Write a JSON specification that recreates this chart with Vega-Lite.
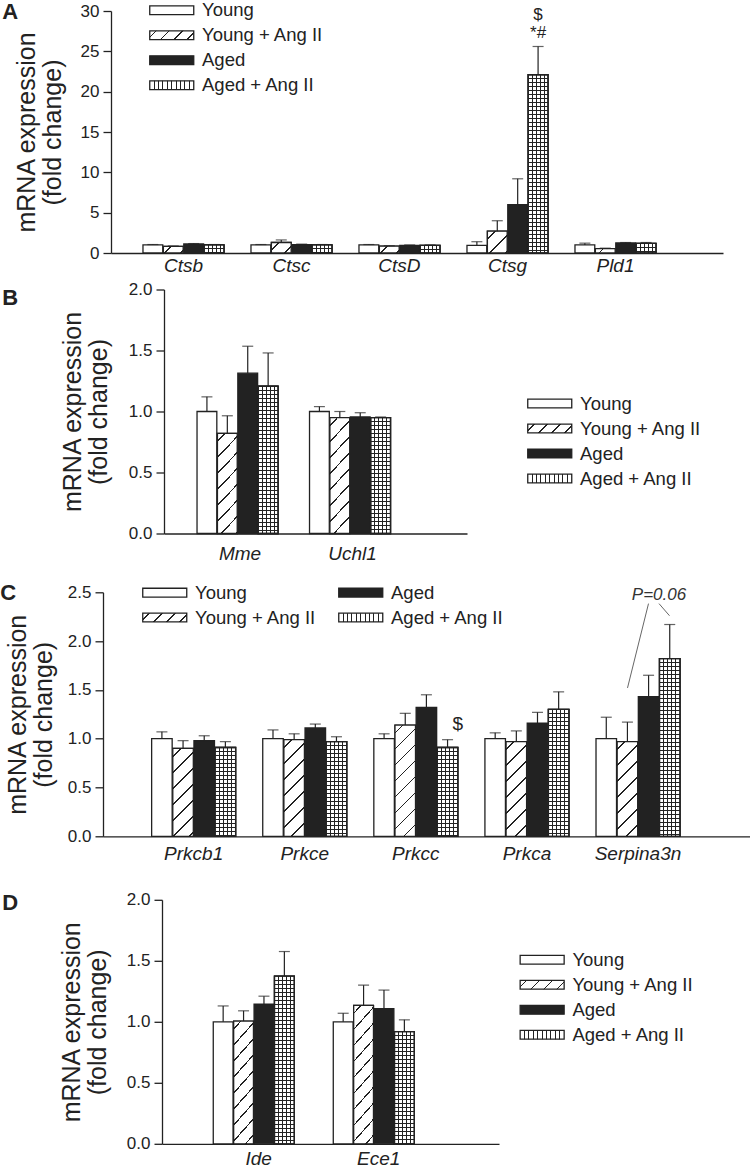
{
"$schema": "https://vega.github.io/schema/vega-lite/v6.json",
"padding": 0,
"background": "white",
"config": {
 "view": {"stroke": null},
 "font": "Liberation Sans",
 "axis": {"grid": false, "domainColor": "#222", "domainWidth": 1.3, "tickColor": "#222", "tickWidth": 1.3, "labelColor": "#222", "titleColor": "#222", "labelFont": "Liberation Sans", "titleFont": "Liberation Sans"},
 "axisY": {"tickSize": 8, "labelFontSize": 17, "labelPadding": 4, "titleFontSize": 25, "titleFontWeight": "normal", "titleLineHeight": 26, "minExtent": 30, "maxExtent": 30},
 "axisX": {"ticks": false, "tickSize": 0, "labelFontSize": 19, "labelFontStyle": "italic", "labelAngle": 0, "title": null},
 "legend": {"title": null, "symbolType": "M-4.4,-0.88H4.4V0.88H-4.4Z", "symbolSize": 100, "symbolStrokeColor": "#222", "symbolStrokeWidth": 1.3, "symbolOpacity": 1, "labelFontSize": 18.5, "labelFont": "Liberation Sans", "labelColor": "#222", "labelOffset": 21, "rowPadding": 6, "padding": 0, "labelLimit": 300},
 "title": {"font": "Liberation Sans", "fontSize": 22, "fontWeight": "bold", "color": "#222"}
},
"params": [
 {"name": "hatchLeg", "value": {"gradient":"linear","x1":0,"y1":0,"x2":1.154,"y2":0.231,"stops":[{"offset":0,"color":"#fff"},{"offset":0.106,"color":"#fff"},{"offset":0.106,"color":"#222"},{"offset":0.14,"color":"#222"},{"offset":0.14,"color":"#fff"},{"offset":0.352,"color":"#fff"},{"offset":0.352,"color":"#222"},{"offset":0.386,"color":"#222"},{"offset":0.386,"color":"#fff"},{"offset":0.599,"color":"#fff"},{"offset":0.599,"color":"#222"},{"offset":0.633,"color":"#222"},{"offset":0.633,"color":"#fff"},{"offset":0.845,"color":"#fff"},{"offset":0.845,"color":"#222"},{"offset":0.879,"color":"#222"},{"offset":0.879,"color":"#fff"},{"offset":1,"color":"#fff"}]}},
 {"name": "gridLeg", "value": {"gradient":"linear","x1":0,"y1":0,"x2":1,"y2":0,"stops":[{"offset":0,"color":"#fff"},{"offset":0.088,"color":"#fff"},{"offset":0.088,"color":"#222"},{"offset":0.112,"color":"#222"},{"offset":0.112,"color":"#fff"},{"offset":0.188,"color":"#fff"},{"offset":0.188,"color":"#222"},{"offset":0.212,"color":"#222"},{"offset":0.212,"color":"#fff"},{"offset":0.288,"color":"#fff"},{"offset":0.288,"color":"#222"},{"offset":0.312,"color":"#222"},{"offset":0.312,"color":"#fff"},{"offset":0.388,"color":"#fff"},{"offset":0.388,"color":"#222"},{"offset":0.412,"color":"#222"},{"offset":0.412,"color":"#fff"},{"offset":0.488,"color":"#fff"},{"offset":0.488,"color":"#222"},{"offset":0.512,"color":"#222"},{"offset":0.512,"color":"#fff"},{"offset":0.588,"color":"#fff"},{"offset":0.588,"color":"#222"},{"offset":0.612,"color":"#222"},{"offset":0.612,"color":"#fff"},{"offset":0.688,"color":"#fff"},{"offset":0.688,"color":"#222"},{"offset":0.712,"color":"#222"},{"offset":0.712,"color":"#fff"},{"offset":0.788,"color":"#fff"},{"offset":0.788,"color":"#222"},{"offset":0.812,"color":"#222"},{"offset":0.812,"color":"#fff"},{"offset":0.888,"color":"#fff"},{"offset":0.888,"color":"#222"},{"offset":0.912,"color":"#222"},{"offset":0.912,"color":"#fff"},{"offset":1,"color":"#fff"}]}},
 {"name": "vStripes", "value": {"gradient":"linear","x1":0,"y1":0,"x2":1,"y2":0,"stops":[{"offset":0,"color":"#fff"},{"offset":0.175,"color":"#fff"},{"offset":0.175,"color":"#222"},{"offset":0.225,"color":"#222"},{"offset":0.225,"color":"#fff"},{"offset":0.375,"color":"#fff"},{"offset":0.375,"color":"#222"},{"offset":0.425,"color":"#222"},{"offset":0.425,"color":"#fff"},{"offset":0.575,"color":"#fff"},{"offset":0.575,"color":"#222"},{"offset":0.625,"color":"#222"},{"offset":0.625,"color":"#fff"},{"offset":0.775,"color":"#fff"},{"offset":0.775,"color":"#222"},{"offset":0.825,"color":"#222"},{"offset":0.825,"color":"#fff"},{"offset":1,"color":"#fff"}]}},
 {"name": "hatchStops", "value": [
  {"offset":0,"color":"#fff"},
  {"offset":0.0355,"color":"#fff"},{"offset":0.0355,"color":"#222"},{"offset":0.0445,"color":"#222"},{"offset":0.0445,"color":"#fff"},
  {"offset":0.1155,"color":"#fff"},{"offset":0.1155,"color":"#222"},{"offset":0.1245,"color":"#222"},{"offset":0.1245,"color":"#fff"},
  {"offset":0.1955,"color":"#fff"},{"offset":0.1955,"color":"#222"},{"offset":0.2045,"color":"#222"},{"offset":0.2045,"color":"#fff"},
  {"offset":0.2755,"color":"#fff"},{"offset":0.2755,"color":"#222"},{"offset":0.2845,"color":"#222"},{"offset":0.2845,"color":"#fff"},
  {"offset":0.3555,"color":"#fff"},{"offset":0.3555,"color":"#222"},{"offset":0.3645,"color":"#222"},{"offset":0.3645,"color":"#fff"},
  {"offset":0.4355,"color":"#fff"},{"offset":0.4355,"color":"#222"},{"offset":0.4445,"color":"#222"},{"offset":0.4445,"color":"#fff"},
  {"offset":0.5155,"color":"#fff"},{"offset":0.5155,"color":"#222"},{"offset":0.5245,"color":"#222"},{"offset":0.5245,"color":"#fff"},
  {"offset":0.5955,"color":"#fff"},{"offset":0.5955,"color":"#222"},{"offset":0.6045,"color":"#222"},{"offset":0.6045,"color":"#fff"},
  {"offset":0.6755,"color":"#fff"},{"offset":0.6755,"color":"#222"},{"offset":0.6845,"color":"#222"},{"offset":0.6845,"color":"#fff"},
  {"offset":0.7555,"color":"#fff"},{"offset":0.7555,"color":"#222"},{"offset":0.7645,"color":"#222"},{"offset":0.7645,"color":"#fff"},
  {"offset":0.8355,"color":"#fff"},{"offset":0.8355,"color":"#222"},{"offset":0.8445,"color":"#222"},{"offset":0.8445,"color":"#fff"},
  {"offset":0.9155,"color":"#fff"},{"offset":0.9155,"color":"#222"},{"offset":0.9245,"color":"#222"},{"offset":0.9245,"color":"#fff"},
  {"offset":1,"color":"#fff"}
 ]},
 {"name": "gridStops", "value": [
  {"offset":0,"color":"rgba(34,34,34,0)"},
  {"offset":0.0175,"color":"rgba(34,34,34,0)"},{"offset":0.0175,"color":"#222"},{"offset":0.0225,"color":"#222"},{"offset":0.0225,"color":"rgba(34,34,34,0)"},
  {"offset":0.0375,"color":"rgba(34,34,34,0)"},{"offset":0.0375,"color":"#222"},{"offset":0.0425,"color":"#222"},{"offset":0.0425,"color":"rgba(34,34,34,0)"},
  {"offset":0.0575,"color":"rgba(34,34,34,0)"},{"offset":0.0575,"color":"#222"},{"offset":0.0625,"color":"#222"},{"offset":0.0625,"color":"rgba(34,34,34,0)"},
  {"offset":0.0775,"color":"rgba(34,34,34,0)"},{"offset":0.0775,"color":"#222"},{"offset":0.0825,"color":"#222"},{"offset":0.0825,"color":"rgba(34,34,34,0)"},
  {"offset":0.0975,"color":"rgba(34,34,34,0)"},{"offset":0.0975,"color":"#222"},{"offset":0.1025,"color":"#222"},{"offset":0.1025,"color":"rgba(34,34,34,0)"},
  {"offset":0.1175,"color":"rgba(34,34,34,0)"},{"offset":0.1175,"color":"#222"},{"offset":0.1225,"color":"#222"},{"offset":0.1225,"color":"rgba(34,34,34,0)"},
  {"offset":0.1375,"color":"rgba(34,34,34,0)"},{"offset":0.1375,"color":"#222"},{"offset":0.1425,"color":"#222"},{"offset":0.1425,"color":"rgba(34,34,34,0)"},
  {"offset":0.1575,"color":"rgba(34,34,34,0)"},{"offset":0.1575,"color":"#222"},{"offset":0.1625,"color":"#222"},{"offset":0.1625,"color":"rgba(34,34,34,0)"},
  {"offset":0.1775,"color":"rgba(34,34,34,0)"},{"offset":0.1775,"color":"#222"},{"offset":0.1825,"color":"#222"},{"offset":0.1825,"color":"rgba(34,34,34,0)"},
  {"offset":0.1975,"color":"rgba(34,34,34,0)"},{"offset":0.1975,"color":"#222"},{"offset":0.2025,"color":"#222"},{"offset":0.2025,"color":"rgba(34,34,34,0)"},
  {"offset":0.2175,"color":"rgba(34,34,34,0)"},{"offset":0.2175,"color":"#222"},{"offset":0.2225,"color":"#222"},{"offset":0.2225,"color":"rgba(34,34,34,0)"},
  {"offset":0.2375,"color":"rgba(34,34,34,0)"},{"offset":0.2375,"color":"#222"},{"offset":0.2425,"color":"#222"},{"offset":0.2425,"color":"rgba(34,34,34,0)"},
  {"offset":0.2575,"color":"rgba(34,34,34,0)"},{"offset":0.2575,"color":"#222"},{"offset":0.2625,"color":"#222"},{"offset":0.2625,"color":"rgba(34,34,34,0)"},
  {"offset":0.2775,"color":"rgba(34,34,34,0)"},{"offset":0.2775,"color":"#222"},{"offset":0.2825,"color":"#222"},{"offset":0.2825,"color":"rgba(34,34,34,0)"},
  {"offset":0.2975,"color":"rgba(34,34,34,0)"},{"offset":0.2975,"color":"#222"},{"offset":0.3025,"color":"#222"},{"offset":0.3025,"color":"rgba(34,34,34,0)"},
  {"offset":0.3175,"color":"rgba(34,34,34,0)"},{"offset":0.3175,"color":"#222"},{"offset":0.3225,"color":"#222"},{"offset":0.3225,"color":"rgba(34,34,34,0)"},
  {"offset":0.3375,"color":"rgba(34,34,34,0)"},{"offset":0.3375,"color":"#222"},{"offset":0.3425,"color":"#222"},{"offset":0.3425,"color":"rgba(34,34,34,0)"},
  {"offset":0.3575,"color":"rgba(34,34,34,0)"},{"offset":0.3575,"color":"#222"},{"offset":0.3625,"color":"#222"},{"offset":0.3625,"color":"rgba(34,34,34,0)"},
  {"offset":0.3775,"color":"rgba(34,34,34,0)"},{"offset":0.3775,"color":"#222"},{"offset":0.3825,"color":"#222"},{"offset":0.3825,"color":"rgba(34,34,34,0)"},
  {"offset":0.3975,"color":"rgba(34,34,34,0)"},{"offset":0.3975,"color":"#222"},{"offset":0.4025,"color":"#222"},{"offset":0.4025,"color":"rgba(34,34,34,0)"},
  {"offset":0.4175,"color":"rgba(34,34,34,0)"},{"offset":0.4175,"color":"#222"},{"offset":0.4225,"color":"#222"},{"offset":0.4225,"color":"rgba(34,34,34,0)"},
  {"offset":0.4375,"color":"rgba(34,34,34,0)"},{"offset":0.4375,"color":"#222"},{"offset":0.4425,"color":"#222"},{"offset":0.4425,"color":"rgba(34,34,34,0)"},
  {"offset":0.4575,"color":"rgba(34,34,34,0)"},{"offset":0.4575,"color":"#222"},{"offset":0.4625,"color":"#222"},{"offset":0.4625,"color":"rgba(34,34,34,0)"},
  {"offset":0.4775,"color":"rgba(34,34,34,0)"},{"offset":0.4775,"color":"#222"},{"offset":0.4825,"color":"#222"},{"offset":0.4825,"color":"rgba(34,34,34,0)"},
  {"offset":0.4975,"color":"rgba(34,34,34,0)"},{"offset":0.4975,"color":"#222"},{"offset":0.5025,"color":"#222"},{"offset":0.5025,"color":"rgba(34,34,34,0)"},
  {"offset":0.5175,"color":"rgba(34,34,34,0)"},{"offset":0.5175,"color":"#222"},{"offset":0.5225,"color":"#222"},{"offset":0.5225,"color":"rgba(34,34,34,0)"},
  {"offset":0.5375,"color":"rgba(34,34,34,0)"},{"offset":0.5375,"color":"#222"},{"offset":0.5425,"color":"#222"},{"offset":0.5425,"color":"rgba(34,34,34,0)"},
  {"offset":0.5575,"color":"rgba(34,34,34,0)"},{"offset":0.5575,"color":"#222"},{"offset":0.5625,"color":"#222"},{"offset":0.5625,"color":"rgba(34,34,34,0)"},
  {"offset":0.5775,"color":"rgba(34,34,34,0)"},{"offset":0.5775,"color":"#222"},{"offset":0.5825,"color":"#222"},{"offset":0.5825,"color":"rgba(34,34,34,0)"},
  {"offset":0.5975,"color":"rgba(34,34,34,0)"},{"offset":0.5975,"color":"#222"},{"offset":0.6025,"color":"#222"},{"offset":0.6025,"color":"rgba(34,34,34,0)"},
  {"offset":0.6175,"color":"rgba(34,34,34,0)"},{"offset":0.6175,"color":"#222"},{"offset":0.6225,"color":"#222"},{"offset":0.6225,"color":"rgba(34,34,34,0)"},
  {"offset":0.6375,"color":"rgba(34,34,34,0)"},{"offset":0.6375,"color":"#222"},{"offset":0.6425,"color":"#222"},{"offset":0.6425,"color":"rgba(34,34,34,0)"},
  {"offset":0.6575,"color":"rgba(34,34,34,0)"},{"offset":0.6575,"color":"#222"},{"offset":0.6625,"color":"#222"},{"offset":0.6625,"color":"rgba(34,34,34,0)"},
  {"offset":0.6775,"color":"rgba(34,34,34,0)"},{"offset":0.6775,"color":"#222"},{"offset":0.6825,"color":"#222"},{"offset":0.6825,"color":"rgba(34,34,34,0)"},
  {"offset":0.6975,"color":"rgba(34,34,34,0)"},{"offset":0.6975,"color":"#222"},{"offset":0.7025,"color":"#222"},{"offset":0.7025,"color":"rgba(34,34,34,0)"},
  {"offset":0.7175,"color":"rgba(34,34,34,0)"},{"offset":0.7175,"color":"#222"},{"offset":0.7225,"color":"#222"},{"offset":0.7225,"color":"rgba(34,34,34,0)"},
  {"offset":0.7375,"color":"rgba(34,34,34,0)"},{"offset":0.7375,"color":"#222"},{"offset":0.7425,"color":"#222"},{"offset":0.7425,"color":"rgba(34,34,34,0)"},
  {"offset":0.7575,"color":"rgba(34,34,34,0)"},{"offset":0.7575,"color":"#222"},{"offset":0.7625,"color":"#222"},{"offset":0.7625,"color":"rgba(34,34,34,0)"},
  {"offset":0.7775,"color":"rgba(34,34,34,0)"},{"offset":0.7775,"color":"#222"},{"offset":0.7825,"color":"#222"},{"offset":0.7825,"color":"rgba(34,34,34,0)"},
  {"offset":0.7975,"color":"rgba(34,34,34,0)"},{"offset":0.7975,"color":"#222"},{"offset":0.8025,"color":"#222"},{"offset":0.8025,"color":"rgba(34,34,34,0)"},
  {"offset":0.8175,"color":"rgba(34,34,34,0)"},{"offset":0.8175,"color":"#222"},{"offset":0.8225,"color":"#222"},{"offset":0.8225,"color":"rgba(34,34,34,0)"},
  {"offset":0.8375,"color":"rgba(34,34,34,0)"},{"offset":0.8375,"color":"#222"},{"offset":0.8425,"color":"#222"},{"offset":0.8425,"color":"rgba(34,34,34,0)"},
  {"offset":0.8575,"color":"rgba(34,34,34,0)"},{"offset":0.8575,"color":"#222"},{"offset":0.8625,"color":"#222"},{"offset":0.8625,"color":"rgba(34,34,34,0)"},
  {"offset":0.8775,"color":"rgba(34,34,34,0)"},{"offset":0.8775,"color":"#222"},{"offset":0.8825,"color":"#222"},{"offset":0.8825,"color":"rgba(34,34,34,0)"},
  {"offset":0.8975,"color":"rgba(34,34,34,0)"},{"offset":0.8975,"color":"#222"},{"offset":0.9025,"color":"#222"},{"offset":0.9025,"color":"rgba(34,34,34,0)"},
  {"offset":1,"color":"rgba(34,34,34,0)"}
 ]}
],
"datasets": {
 "A": [
  {"gene":"Ctsb","group":"Young","mean":1.0,"hi":1.05},
  {"gene":"Ctsb","group":"Young + Ang II","mean":0.82,"hi":0.87},
  {"gene":"Ctsb","group":"Aged","mean":1.12,"hi":1.17},
  {"gene":"Ctsb","group":"Aged + Ang II","mean":1.0,"hi":1.05},
  {"gene":"Ctsc","group":"Young","mean":1.0,"hi":1.05},
  {"gene":"Ctsc","group":"Young + Ang II","mean":1.3,"hi":1.62},
  {"gene":"Ctsc","group":"Aged","mean":1.05,"hi":1.1},
  {"gene":"Ctsc","group":"Aged + Ang II","mean":1.0,"hi":1.05},
  {"gene":"CtsD","group":"Young","mean":1.0,"hi":1.05},
  {"gene":"CtsD","group":"Young + Ang II","mean":0.85,"hi":0.9},
  {"gene":"CtsD","group":"Aged","mean":0.95,"hi":1.0},
  {"gene":"CtsD","group":"Aged + Ang II","mean":0.95,"hi":1.0},
  {"gene":"Ctsg","group":"Young","mean":0.95,"hi":1.4},
  {"gene":"Ctsg","group":"Young + Ang II","mean":2.7,"hi":4.0},
  {"gene":"Ctsg","group":"Aged","mean":6.0,"hi":9.2},
  {"gene":"Ctsg","group":"Aged + Ang II","mean":22.1,"hi":25.6},
  {"gene":"Pld1","group":"Young","mean":1.0,"hi":1.22},
  {"gene":"Pld1","group":"Young + Ang II","mean":0.55,"hi":0.6},
  {"gene":"Pld1","group":"Aged","mean":1.25,"hi":1.3},
  {"gene":"Pld1","group":"Aged + Ang II","mean":1.2,"hi":1.3}
 ],
 "annA": [
  {"gene":"Ctsg","group":"Aged + Ang II","pos":29.5,"label":"$"},
  {"gene":"Ctsg","group":"Aged + Ang II","pos":27.3,"label":"*#"}
 ],
 "B": [
  {"gene":"Mme","group":"Young","mean":1.0,"hi":1.12},
  {"gene":"Mme","group":"Young + Ang II","mean":0.82,"hi":0.965},
  {"gene":"Mme","group":"Aged","mean":1.314,"hi":1.535},
  {"gene":"Mme","group":"Aged + Ang II","mean":1.207,"hi":1.48},
  {"gene":"Uchl1","group":"Young","mean":1.0,"hi":1.04},
  {"gene":"Uchl1","group":"Young + Ang II","mean":0.95,"hi":1.0},
  {"gene":"Uchl1","group":"Aged","mean":0.955,"hi":0.99},
  {"gene":"Uchl1","group":"Aged + Ang II","mean":0.95,"hi":0.955}
 ],
 "C": [
  {"gene":"Prkcb1","group":"Young","mean":1.0,"hi":1.07},
  {"gene":"Prkcb1","group":"Young + Ang II","mean":0.9,"hi":0.98},
  {"gene":"Prkcb1","group":"Aged","mean":0.98,"hi":1.03},
  {"gene":"Prkcb1","group":"Aged + Ang II","mean":0.91,"hi":0.97},
  {"gene":"Prkce","group":"Young","mean":1.0,"hi":1.09},
  {"gene":"Prkce","group":"Young + Ang II","mean":0.99,"hi":1.05},
  {"gene":"Prkce","group":"Aged","mean":1.11,"hi":1.15},
  {"gene":"Prkce","group":"Aged + Ang II","mean":0.97,"hi":1.02},
  {"gene":"Prkcc","group":"Young","mean":1.0,"hi":1.05},
  {"gene":"Prkcc","group":"Young + Ang II","mean":1.14,"hi":1.26},
  {"gene":"Prkcc","group":"Aged","mean":1.32,"hi":1.45},
  {"gene":"Prkcc","group":"Aged + Ang II","mean":0.91,"hi":0.99},
  {"gene":"Prkca","group":"Young","mean":1.0,"hi":1.06},
  {"gene":"Prkca","group":"Young + Ang II","mean":0.97,"hi":1.08},
  {"gene":"Prkca","group":"Aged","mean":1.16,"hi":1.27},
  {"gene":"Prkca","group":"Aged + Ang II","mean":1.3,"hi":1.48},
  {"gene":"Serpina3n","group":"Young","mean":1.0,"hi":1.22},
  {"gene":"Serpina3n","group":"Young + Ang II","mean":0.97,"hi":1.17},
  {"gene":"Serpina3n","group":"Aged","mean":1.43,"hi":1.65},
  {"gene":"Serpina3n","group":"Aged + Ang II","mean":1.82,"hi":2.17}
 ],
 "annC1": [
  {"gene":"Prkcc","group":"Aged + Ang II","pos":1.155,"label":"$"}
 ],
 "annC2": [
  {"gene":"Serpina3n","slot":"Aged | Aged + Ang II","pos":2.476,"label":"P=0.06"}
 ],
 "linesC": [
  {"gene":"Serpina3n","slot":"Aged","pos":2.384,"seg":"a"},
  {"gene":"Serpina3n","slot":"Young + Ang II","pos":1.52,"seg":"a"},
  {"gene":"Serpina3n","slot":"Aged | Aged + Ang II","pos":2.384,"seg":"b"},
  {"gene":"Serpina3n","slot":"Aged + Ang II","pos":2.26,"seg":"b"}
 ],
 "D": [
  {"gene":"Ide","group":"Young","mean":1.0,"hi":1.13},
  {"gene":"Ide","group":"Young + Ang II","mean":1.006,"hi":1.09},
  {"gene":"Ide","group":"Aged","mean":1.145,"hi":1.21},
  {"gene":"Ide","group":"Aged + Ang II","mean":1.375,"hi":1.576},
  {"gene":"Ece1","group":"Young","mean":1.0,"hi":1.07},
  {"gene":"Ece1","group":"Young + Ang II","mean":1.134,"hi":1.3},
  {"gene":"Ece1","group":"Aged","mean":1.107,"hi":1.26},
  {"gene":"Ece1","group":"Aged + Ang II","mean":0.92,"hi":1.016}
 ]
},
"resolve": {"scale": {"fill": "independent"}, "legend": {"fill": "independent"}},
"columns": 1,
"spacing": 17.3,
"concat": [
{"columns": 1, "spacing": 4.5, "resolve": {"scale": {"fill": "independent"}, "legend": {"fill": "independent"}}, "concat": [
 {
  "width": 620, "height": 242,
  "data": {"name": "A"},
  "title": {"text": "A", "orient": "left", "anchor": "end", "frame": "group", "angle": 0, "align": "right", "baseline": "top", "offset": -20, "dy": -9.5},
  "encoding": {
   "x": {"field": "gene", "type": "nominal", "sort": null, "scale": {"domain": ["Ctsb","Ctsc","CtsD","Ctsg","Pld1"], "range": [8, 620], "paddingInner": 0.25, "paddingOuter": 0.4583, "align": 0.323}, "axis": {"labelPadding": 3.3}},
   "xOffset": {"field": "group", "type": "nominal", "scale": {"domain": ["Young","Young + Ang II","Aged","Aged + Ang II"], "paddingInner": 0.03, "paddingOuter": 0}},
   "y": {"field": "mean", "type": "quantitative", "scale": {"domain": [0, 30], "nice": false}, "axis": {"title": ["mRNA expression", "(fold change)"], "values": [0,5,10,15,20,25,30], "format": "d", "titlePadding": 16, "offset": -8}}
  },
  "layer": [
   {"mark": {"type": "bar", "stroke": "#222", "strokeWidth": 1.3},
    "encoding": {"fill": {"field": "group", "type": "nominal",
      "scale": {"domain": ["Young","Young + Ang II","Aged","Aged + Ang II"], "range": ["#ffffff", {"expr": "hatchLeg"}, "#222222", {"expr": "gridLeg"}]},
      "legend": {"orient": "none", "legendX": 59.5, "legendY": -10, "direction": "vertical"}}}},
   {"transform": [{"filter": "datum.group === 'Young + Ang II'"}],
    "mark": {"type": "bar", "stroke": "#222", "strokeWidth": 1.3, "fill": {"expr": "{gradient:'linear',x1:0,y1:0,x2:3960/(392+pow(datum.mean*8.067,2)),y2:1613.3*datum.mean/(392+pow(datum.mean*8.067,2)),stops:hatchStops}"}}},
   {"transform": [{"filter": "datum.group === 'Aged + Ang II'"}],
    "mark": {"type": "bar", "stroke": "#222", "strokeWidth": 1.3, "fill": {"expr": "vStripes"}}},
   {"transform": [{"filter": "datum.group === 'Aged + Ang II'"}],
    "mark": {"type": "bar", "stroke": "#222", "strokeWidth": 1.3, "fill": {"expr": "{gradient:'linear',x1:0,y1:0,x2:0,y2:24.79/datum.mean,stops:gridStops}"}}},
   {"mark": {"type": "rule", "color": "#222", "strokeWidth": 1.2}, "encoding": {"y2": {"field": "hi"}}},
   {"mark": {"type": "tick", "color": "#222", "thickness": 1.2, "size": 11, "orient": "horizontal"}, "encoding": {"y": {"field": "hi", "type": "quantitative", "axis": {"title": ["mRNA expression", "(fold change)"], "values": [0,5,10,15,20,25,30], "format": "d", "titlePadding": 16, "offset": -8}}}},
   {"data": {"name": "annA"}, "mark": {"type": "text", "fontSize": 17, "color": "#222", "baseline": "middle"}, "encoding": {"y": {"field": "pos", "type": "quantitative", "axis": {"title": ["mRNA expression", "(fold change)"], "values": [0,5,10,15,20,25,30], "format": "d", "titlePadding": 16, "offset": -8}}, "text": {"field": "label"}}}
  ]
 },
 {
  "width": 364, "height": 244,
  "data": {"name": "B"},
  "title": {"text": "B", "orient": "left", "anchor": "end", "frame": "group", "angle": 0, "align": "right", "baseline": "top", "offset": 26, "dy": -1.5},
  "encoding": {
   "x": {"field": "gene", "type": "nominal", "sort": null, "scale": {"domain": ["Mme","Uchl1"], "range": [61, 364], "paddingInner": 0.2356, "paddingOuter": 0.4646, "align": 0.316}, "axis": {"labelPadding": 11.3}},
   "xOffset": {"field": "group", "type": "nominal", "scale": {"domain": ["Young","Young + Ang II","Aged","Aged + Ang II"], "paddingInner": 0.03, "paddingOuter": 0}},
   "y": {"field": "mean", "type": "quantitative", "scale": {"domain": [0, 2], "nice": false}, "axis": {"title": ["mRNA expression", "(fold change)"], "values": [0,0.5,1,1.5,2], "format": ".1f", "titlePadding": 23, "offset": -61}}
  },
  "layer": [
   {"mark": {"type": "bar", "stroke": "#222", "strokeWidth": 1.3},
    "encoding": {"fill": {"field": "group", "type": "nominal",
      "scale": {"domain": ["Young","Young + Ang II","Aged","Aged + Ang II"], "range": ["#ffffff", {"expr": "hatchLeg"}, "#222222", {"expr": "gridLeg"}]},
      "legend": {"orient": "none", "legendX": 437.5, "legendY": 104.75, "direction": "vertical"}}}},
   {"transform": [{"filter": "datum.group === 'Young + Ang II'"}],
    "mark": {"type": "bar", "stroke": "#222", "strokeWidth": 1.3, "fill": {"expr": "{gradient:'linear',x1:0,y1:0,x2:4200/(441+pow(datum.mean*122,2)),y2:24400*datum.mean/(441+pow(datum.mean*122,2)),stops:hatchStops}"}}},
   {"transform": [{"filter": "datum.group === 'Aged + Ang II'"}],
    "mark": {"type": "bar", "stroke": "#222", "strokeWidth": 1.3, "fill": {"expr": "vStripes"}}},
   {"transform": [{"filter": "datum.group === 'Aged + Ang II'"}],
    "mark": {"type": "bar", "stroke": "#222", "strokeWidth": 1.3, "fill": {"expr": "{gradient:'linear',x1:0,y1:0,x2:0,y2:1.6393/datum.mean,stops:gridStops}"}}},
   {"mark": {"type": "rule", "color": "#222", "strokeWidth": 1.2}, "encoding": {"y2": {"field": "hi"}}},
   {"mark": {"type": "tick", "color": "#222", "thickness": 1.2, "size": 11, "orient": "horizontal"}, "encoding": {"y": {"field": "hi", "type": "quantitative", "axis": {"title": ["mRNA expression", "(fold change)"], "values": [0,0.5,1,1.5,2], "format": ".1f", "titlePadding": 23, "offset": -61}}}}
  ]
 }
]},
{"columns": 1, "spacing": 26.5, "resolve": {"scale": {"fill": "independent"}, "legend": {"fill": "independent"}}, "concat": [
 {
  "width": 647, "height": 244,
  "data": {"name": "C"},
  "title": {"text": "C", "orient": "left", "anchor": "end", "frame": "group", "angle": 0, "align": "right", "baseline": "top", "offset": -27, "dy": -9.7},
  "resolve": {"scale": {"xOffset": "independent"}},
  "encoding": {
   "x": {"field": "gene", "type": "nominal", "sort": null, "scale": {"domain": ["Prkcb1","Prkce","Prkcc","Prkca","Serpina3n"], "paddingInner": 0.244, "paddingOuter": 0.534, "align": 0.41}, "axis": {"labelPadding": 8.6}},
   "xOffset": {"field": "group", "type": "nominal", "scale": {"domain": ["Young","Young + Ang II","Aged","Aged + Ang II"], "paddingInner": 0.03, "paddingOuter": 0}},
   "y": {"field": "mean", "type": "quantitative", "scale": {"domain": [0, 2.5], "nice": false}, "axis": {"title": ["mRNA expression", "(fold change)"], "values": [0,0.5,1,1.5,2,2.5], "format": ".1f", "titlePadding": 17}}
  },
  "layer": [
   {"mark": {"type": "bar", "stroke": "#222", "strokeWidth": 1.3},
    "encoding": {"fill": {"field": "group", "type": "nominal",
      "scale": {"domain": ["Young","Young + Ang II","Aged","Aged + Ang II"], "range": ["#ffffff", {"expr": "hatchLeg"}, "#222222", {"expr": "gridLeg"}]},
      "legend": {"orient": "none", "legendX": 52.5, "legendY": -9, "columns": 2, "columnPadding": 19, "direction": "vertical"}}}},
   {"transform": [{"filter": "datum.group === 'Young + Ang II'"}],
    "mark": {"type": "bar", "stroke": "#222", "strokeWidth": 1.3, "fill": {"expr": "{gradient:'linear',x1:0,y1:0,x2:4100/(420.25+pow(datum.mean*97.6,2)),y2:19520*datum.mean/(420.25+pow(datum.mean*97.6,2)),stops:hatchStops}"}}},
   {"transform": [{"filter": "datum.group === 'Aged + Ang II'"}],
    "mark": {"type": "bar", "stroke": "#222", "strokeWidth": 1.3, "fill": {"expr": "vStripes"}}},
   {"transform": [{"filter": "datum.group === 'Aged + Ang II'"}],
    "mark": {"type": "bar", "stroke": "#222", "strokeWidth": 1.3, "fill": {"expr": "{gradient:'linear',x1:0,y1:0,x2:0,y2:2.0492/datum.mean,stops:gridStops}"}}},
   {"mark": {"type": "rule", "color": "#222", "strokeWidth": 1.2}, "encoding": {"y2": {"field": "hi"}}},
   {"mark": {"type": "tick", "color": "#222", "thickness": 1.2, "size": 11, "orient": "horizontal"}, "encoding": {"y": {"field": "hi", "type": "quantitative", "axis": {"title": ["mRNA expression", "(fold change)"], "values": [0,0.5,1,1.5,2,2.5], "format": ".1f", "titlePadding": 17}}}},
   {"data": {"name": "annC1"}, "mark": {"type": "text", "fontSize": 19, "color": "#222", "baseline": "middle"}, "encoding": {"y": {"field": "pos", "type": "quantitative", "axis": {"title": ["mRNA expression", "(fold change)"], "values": [0,0.5,1,1.5,2,2.5], "format": ".1f", "titlePadding": 17}}, "text": {"field": "label"}}},
   {"data": {"name": "annC2"}, "mark": {"type": "text", "fontSize": 17, "fontStyle": "italic", "color": "#333", "baseline": "middle"},
    "encoding": {"xOffset": {"field": "slot", "type": "nominal", "scale": {"type": "point", "domain": ["Young","Young | Young + Ang II","Young + Ang II","Young + Ang II | Aged","Aged","Aged | Aged + Ang II","Aged + Ang II"], "padding": 1}},
     "y": {"field": "pos", "type": "quantitative", "axis": {"title": ["mRNA expression", "(fold change)"], "values": [0,0.5,1,1.5,2,2.5], "format": ".1f", "titlePadding": 17}}, "text": {"field": "label"}}},
   {"data": {"name": "linesC"}, "mark": {"type": "line", "color": "#555", "strokeWidth": 0.9},
    "encoding": {"xOffset": {"field": "slot", "type": "nominal", "scale": {"type": "point", "domain": ["Young","Young | Young + Ang II","Young + Ang II","Young + Ang II | Aged","Aged","Aged | Aged + Ang II","Aged + Ang II"], "padding": 1}},
     "y": {"field": "pos", "type": "quantitative", "axis": {"title": ["mRNA expression", "(fold change)"], "values": [0,0.5,1,1.5,2,2.5], "format": ".1f", "titlePadding": 17}}, "detail": {"field": "seg"}}}
  ]
 },
 {
  "width": 396, "height": 244,
  "data": {"name": "D"},
  "title": {"text": "D", "orient": "left", "anchor": "end", "frame": "group", "angle": 0, "align": "right", "baseline": "top", "offset": 25, "dy": -6.5},
  "encoding": {
   "x": {"field": "gene", "type": "nominal", "sort": null, "scale": {"domain": ["Ide","Ece1"], "range": [59, 396], "paddingInner": 0.244, "paddingOuter": 0.526, "align": 0.406}, "axis": {"labelPadding": 6}},
   "xOffset": {"field": "group", "type": "nominal", "scale": {"domain": ["Young","Young + Ang II","Aged","Aged + Ang II"], "paddingInner": 0.03, "paddingOuter": 0}},
   "y": {"field": "mean", "type": "quantitative", "scale": {"domain": [0, 2], "nice": false}, "axis": {"title": ["mRNA expression", "(fold change)"], "values": [0,0.5,1,1.5,2], "format": ".1f", "titlePadding": 22, "offset": -59}}
  },
  "layer": [
   {"mark": {"type": "bar", "stroke": "#222", "strokeWidth": 1.3},
    "encoding": {"fill": {"field": "group", "type": "nominal",
      "scale": {"domain": ["Young","Young + Ang II","Aged","Aged + Ang II"], "range": ["#ffffff", {"expr": "hatchLeg"}, "#222222", {"expr": "gridLeg"}]},
      "legend": {"orient": "none", "legendX": 429.9, "legendY": 50.75, "direction": "vertical"}}}},
   {"transform": [{"filter": "datum.group === 'Young + Ang II'"}],
    "mark": {"type": "bar", "stroke": "#222", "strokeWidth": 1.3, "fill": {"expr": "{gradient:'linear',x1:0,y1:0,x2:4440/(492.8+pow(datum.mean*122,2)),y2:24400*datum.mean/(492.8+pow(datum.mean*122,2)),stops:hatchStops}"}}},
   {"transform": [{"filter": "datum.group === 'Aged + Ang II'"}],
    "mark": {"type": "bar", "stroke": "#222", "strokeWidth": 1.3, "fill": {"expr": "vStripes"}}},
   {"transform": [{"filter": "datum.group === 'Aged + Ang II'"}],
    "mark": {"type": "bar", "stroke": "#222", "strokeWidth": 1.3, "fill": {"expr": "{gradient:'linear',x1:0,y1:0,x2:0,y2:1.6393/datum.mean,stops:gridStops}"}}},
   {"mark": {"type": "rule", "color": "#222", "strokeWidth": 1.2}, "encoding": {"y2": {"field": "hi"}}},
   {"mark": {"type": "tick", "color": "#222", "thickness": 1.2, "size": 11, "orient": "horizontal"}, "encoding": {"y": {"field": "hi", "type": "quantitative", "axis": {"title": ["mRNA expression", "(fold change)"], "values": [0,0.5,1,1.5,2], "format": ".1f", "titlePadding": 22, "offset": -59}}}}
  ]
 }
]}
]
}
